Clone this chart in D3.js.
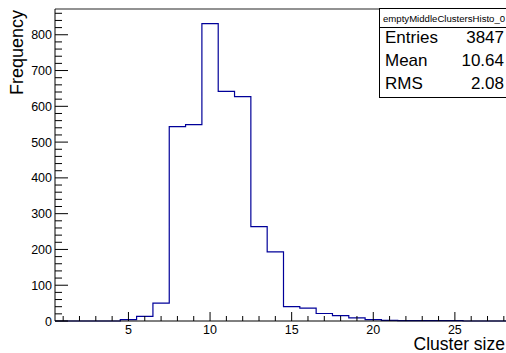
<!DOCTYPE html>
<html>
<head>
<meta charset="utf-8">
<script src="https://cdn.jsdelivr.net/npm/d3@7"></script>
<style>
  html, body { margin: 0; padding: 0; background: #fff; }
  svg { display: block; font-family: "Liberation Sans", Arial, Helvetica, sans-serif; }
</style>
</head>
<body>
<svg id="chart" width="506" height="353"></svg>
<script>
// Cluster-size histogram: one bin per integer size (bin edges at half-integers)
const binCenters = [1, 2, 3, 4, 5, 6, 7, 8, 9, 10, 11, 12, 13, 14, 15, 16, 17, 18, 19, 20, 21, 22, 23, 24, 25, 26, 27, 28];
const binCounts  = [0, 0, 0, 0, 4, 13, 50, 543, 549, 831, 642, 627, 264, 193, 40, 36, 21, 15, 9, 4, 2, 1, 1, 1, 1, 0, 0, 0];

const histName = "emptyMiddleClustersHisto_0";
const statLabels = ["Entries", "Mean", "RMS"];
const statValues = ["3847", "10.64", "2.08"];

const xMajorTicks = [5, 10, 15, 20, 25];
const yMajorTicks = [0, 100, 200, 300, 400, 500, 600, 700, 800];

const svg = d3.select("#chart");

const padL = 55, padR = 512, padT = 9, padB = 321;
const x = d3.scaleLinear().domain([0.5, 28.5]).range([padL, padR]);
const y = d3.scaleLinear().domain([0, 872]).range([padB, padT]);

// top frame edge
svg.append("line")
  .attr("x1", padL).attr("x2", 506).attr("y1", padT).attr("y2", padT)
  .attr("stroke", "#6e6e6e").attr("stroke-width", 1.6);

// histogram outline as a step path
const pts = [[0.5, 0]];
binCenters.forEach((c, i) => {
  pts.push([c - 0.5, binCounts[i]]);
  pts.push([c + 0.5, binCounts[i]]);
});
pts.push([28.5, 0]);
svg.append("path")
  .attr("d", d3.line().x(d => x(d[0])).y(d => y(d[1]))(pts))
  .attr("fill", "none")
  .attr("stroke", "#000099")
  .attr("stroke-width", 1.2);

// x axis
const gx = svg.append("g");
gx.append("line").attr("x1", padL).attr("x2", 506).attr("y1", padB).attr("y2", padB)
  .attr("stroke", "#000").attr("stroke-width", 1);
gx.selectAll("line.minor").data(d3.range(1, 29).filter(v => v % 5 !== 0)).enter()
  .append("line").attr("class", "minor")
  .attr("x1", d => x(d)).attr("x2", d => x(d))
  .attr("y1", padB).attr("y2", padB - 5)
  .attr("stroke", "#000");
gx.selectAll("line.major").data(xMajorTicks).enter()
  .append("line").attr("class", "major")
  .attr("x1", d => x(d)).attr("x2", d => x(d))
  .attr("y1", padB).attr("y2", padB - 9)
  .attr("stroke", "#000");
gx.selectAll("text").data(xMajorTicks).enter()
  .append("text")
  .attr("x", d => x(d)).attr("y", 333.5)
  .attr("text-anchor", "middle")
  .attr("font-size", 12.5)
  .text(d => d);

// y axis
const gy = svg.append("g");
gy.append("line").attr("x1", padL).attr("x2", padL).attr("y1", padB).attr("y2", padT)
  .attr("stroke", "#000");
gy.selectAll("line.minor").data(d3.range(0, 872, 20).filter(v => v % 100 !== 0)).enter()
  .append("line").attr("class", "minor")
  .attr("x1", padL).attr("x2", padL + 7)
  .attr("y1", d => y(d)).attr("y2", d => y(d))
  .attr("stroke", "#000");
gy.selectAll("line.major").data(yMajorTicks).enter()
  .append("line").attr("class", "major")
  .attr("x1", padL).attr("x2", padL + 13)
  .attr("y1", d => y(d)).attr("y2", d => y(d))
  .attr("stroke", "#000");
gy.selectAll("text").data(yMajorTicks).enter()
  .append("text")
  .attr("x", 52).attr("y", d => y(d) + 4.5)
  .attr("text-anchor", "end")
  .attr("font-size", 12.5)
  .text(d => d);

// axis titles
svg.append("text")
  .attr("x", 505).attr("y", 349.5)
  .attr("text-anchor", "end")
  .attr("font-size", 17.5)
  .text("Cluster size");
svg.append("text")
  .attr("transform", "translate(23,10) rotate(-90)")
  .attr("text-anchor", "end")
  .attr("font-size", 18)
  .text("Frequency");

// statistics box
const bx = 379.5, by = 8.5, bw = 140, bh = 89;
const stats = svg.append("g");
stats.append("rect")
  .attr("x", bx).attr("y", by).attr("width", bw).attr("height", bh)
  .attr("fill", "#fff").attr("stroke", "#000");
stats.append("line")
  .attr("x1", bx).attr("x2", bx + bw).attr("y1", 27.5).attr("y2", 27.5)
  .attr("stroke", "#000");
stats.append("text")
  .attr("x", 383).attr("y", 21.5)
  .attr("font-size", 9.6)
  .text(histName);
statLabels.forEach((lab, i) => {
  stats.append("text")
    .attr("x", 385).attr("y", 42.5 + i * 23)
    .attr("font-size", 17)
    .text(lab);
  stats.append("text")
    .attr("x", 504).attr("y", 42.5 + i * 23)
    .attr("text-anchor", "end")
    .attr("font-size", 17)
    .text(statValues[i]);
});
</script>
</body>
</html>
